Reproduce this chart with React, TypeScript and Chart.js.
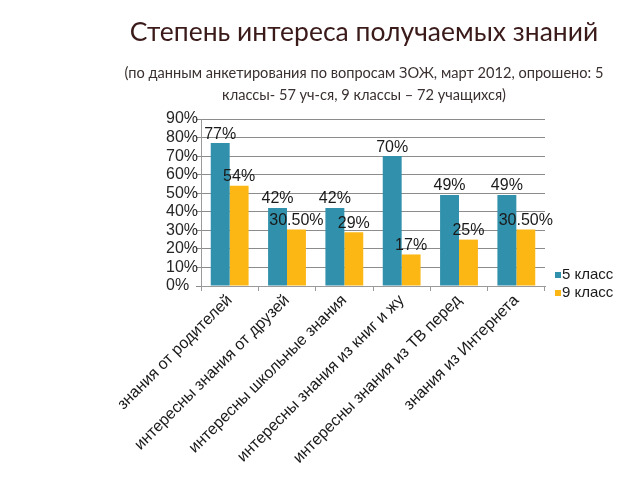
import React, { useEffect, useRef } from "react";
import { Chart, registerables } from "chart.js";

Chart.register(...registerables);

const categories = [
  "знания от родителей",
  "интересны знания от друзей",
  "интересны школьные знания",
  "интересны знания из книг и жу",
  "интересны знания из ТВ перед",
  "знания из Интернета",
];
const seriesNames = ["5 класс", "9 класс"];
const class5 = [77, 42, 42, 70, 49, 49];
const class9 = [54, 30.5, 29, 17, 25, 30.5];
const yTicks = [0, 10, 20, 30, 40, 50, 60, 70, 80, 90];

const TEAL = "#3190AB";
const ORANGE = "#FDB714";
const FONT = "'Liberation Sans', Arial, sans-serif";

const fmt = (v: number) => (Number.isInteger(v) ? `${v}%` : `${v.toFixed(2)}%`);

const labelPlugin = {
  id: "barLabels",
  afterDatasetsDraw(chart: any) {
    const ctx = chart.ctx;
    ctx.save();
    ctx.font = `16px ${FONT}`;
    ctx.fillStyle = "#1a1a1a";
    ctx.textAlign = "center";
    ctx.textBaseline = "bottom";
    chart.data.datasets.forEach((ds: any, i: number) => {
      const meta = chart.getDatasetMeta(i);
      meta.data.forEach((bar: any, j: number) => {
        ctx.fillText(fmt(ds.data[j]), bar.x, bar.y - 1);
      });
    });
    ctx.restore();
  },
};

const legendPlugin = {
  id: "sideLegend",
  afterDraw(chart: any) {
    const ctx = chart.ctx;
    ctx.save();
    ctx.font = `15px ${FONT}`;
    ctx.textBaseline = "middle";
    ctx.textAlign = "left";
    chart.data.datasets.forEach((ds: any, i: number) => {
      const y = 275 + i * 18;
      ctx.fillStyle = ds.backgroundColor;
      ctx.fillRect(555, y - 3, 6, 6);
      ctx.fillStyle = "#1a1a1a";
      ctx.fillText(ds.label, 562, y);
    });
    ctx.restore();
  },
};

export default function App() {
  const ref = useRef<HTMLCanvasElement>(null);
  useEffect(() => {
    if (!ref.current) return;
    const chart = new Chart(ref.current, {
      type: "bar",
      data: {
        labels: categories,
        datasets: [
          { label: seriesNames[0], data: class5, backgroundColor: TEAL, categoryPercentage: 0.66, barPercentage: 1 },
          { label: seriesNames[1], data: class9, backgroundColor: ORANGE, categoryPercentage: 0.66, barPercentage: 1 },
        ],
      },
      options: {
        responsive: false,
        animation: false,
        layout: { padding: { top: 119, right: 95, bottom: 0, left: 166 } },
        plugins: { legend: { display: false }, title: { display: false }, tooltip: { enabled: false } },
        scales: {
          x: {
            afterFit: (s: any) => {
              s.height = 194;
            },
            grid: { drawOnChartArea: false, drawTicks: true, tickLength: 5, color: "#9a9a9a", offset: true },
            border: { color: "#9a9a9a" },
            ticks: {
              autoSkip: false,
              maxRotation: 45,
              minRotation: 45,
              color: "#1a1a1a",
              font: { family: FONT, size: 16 },
              padding: 0,
            },
          },
          y: {
            min: 0,
            max: 90,
            afterFit: (s: any) => {
              s.width = 35;
            },
            afterBuildTicks: (s: any) => {
              s.ticks = yTicks.map((v) => ({ value: v }));
            },
            grid: { color: "#8c8c8c", lineWidth: 1, tickLength: 5 },
            border: { color: "#9a9a9a" },
            ticks: {
              autoSkip: false,
              stepSize: 10,
              crossAlign: "far",
              color: "#262626",
              font: { family: FONT, size: 16 },
              padding: 5,
              callback: (v: any) => `${v}%`,
            },
          },
        },
      },
      plugins: [labelPlugin, legendPlugin],
    });
    return () => chart.destroy();
  }, []);

  const titleFont = "Lato, 'Open Sans', sans-serif";
  return (
    <div style={{ position: "absolute", left: 0, top: 0, width: 640, height: 480, background: "#fff", overflow: "hidden" }}>
      <canvas ref={ref} width={640} height={480} style={{ position: "absolute", left: 0, top: 0 }} />
      <div
        style={{
          position: "absolute",
          left: 64,
          width: 600,
          top: 15,
          textAlign: "center",
          fontFamily: titleFont,
          fontSize: 26.5,
          color: "#3b1a1a",
          whiteSpace: "nowrap",
        }}
      >
        Степень интереса получаемых знаний
      </div>
      <div
        style={{
          position: "absolute",
          left: 64,
          width: 600,
          top: 62,
          textAlign: "center",
          fontFamily: titleFont,
          fontSize: 14.6,
          lineHeight: "22px",
          color: "#3a3030",
        }}
      >
        (по данным анкетирования по вопросам ЗОЖ, март 2012, опрошено: 5
        <br />
        классы- 57 уч-ся, 9 классы – 72 учащихся)
      </div>
    </div>
  );
}
